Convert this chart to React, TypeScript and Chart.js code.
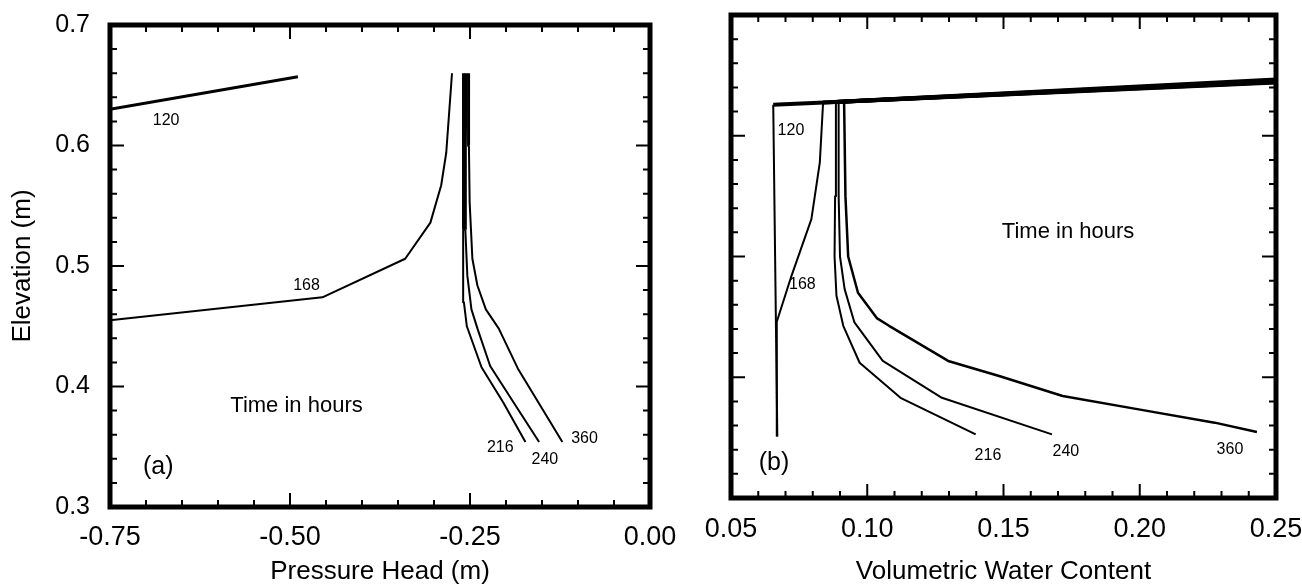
import React, { useEffect, useRef } from "react";
import { Chart, registerables } from "chart.js";

Chart.register(...registerables);

const FONT = "'Liberation Sans', Arial, Helvetica, sans-serif";

// ---------- Panel (a): pressure head vs elevation ----------
const pressureTicks = [-0.75, -0.5, -0.25, 0];
const elevationTicks = [0.3, 0.4, 0.5, 0.6, 0.7];

const a120X = [-0.75, -0.489];
const a120Y = [0.63, 0.657];
const a168X = [-0.75, -0.455, -0.34, -0.305, -0.29, -0.283, -0.275];
const a168Y = [0.455, 0.474, 0.506, 0.536, 0.567, 0.594, 0.66];
const a216X = [-0.173, -0.204, -0.234, -0.2544, -0.2585, -0.2595, -0.259, -0.259];
const a216Y = [0.354, 0.387, 0.416, 0.45, 0.47, 0.53, 0.6, 0.66];
const a240X = [-0.154, -0.1865, -0.222, -0.2396, -0.248, -0.2537, -0.2565, -0.2565, -0.2555];
const a240Y = [0.354, 0.384, 0.417, 0.448, 0.464, 0.492, 0.53, 0.6, 0.66];
const a360X = [-0.1217, -0.1836, -0.21, -0.228, -0.2398, -0.2467, -0.2505, -0.2515, -0.252];
const a360Y = [0.354, 0.415, 0.448, 0.464, 0.484, 0.506, 0.553, 0.6, 0.66];

// ---------- Panel (b): water content vs elevation ----------
const contentTicks = [0.05, 0.1, 0.15, 0.2, 0.25];

const b120X = [0.067, 0.0655, 0.25];
const b120Y = [0.351, 0.6257, 0.644];
const b168X = [0.0668, 0.0668, 0.0705, 0.0722, 0.0795, 0.0826, 0.0838, 0.25];
const b168Y = [0.351, 0.446, 0.472, 0.484, 0.531, 0.578, 0.6276, 0.6446];
const b216X = [0.1398, 0.1122, 0.0972, 0.0912, 0.0887, 0.088, 0.0882, 0.0885, 0.25];
const b216Y = [0.3527, 0.383, 0.412, 0.4426, 0.4675, 0.5, 0.55, 0.628, 0.6452];
const b240X = [0.1678, 0.1274, 0.1057, 0.0953, 0.0917, 0.09, 0.0895, 0.0895, 0.25];
const b240Y = [0.3527, 0.383, 0.4135, 0.4454, 0.473, 0.5, 0.55, 0.6282, 0.6458];
const b360X = [0.243, 0.2275, 0.1996, 0.1717, 0.1484, 0.1297, 0.108, 0.1035, 0.0966, 0.093, 0.092, 0.0915, 0.25];
const b360Y = [0.3546, 0.3624, 0.3734, 0.3845, 0.401, 0.4135, 0.4426, 0.449, 0.47, 0.5, 0.55, 0.6284, 0.6465];

// curve labels and notes (data coordinates)
const aNotes = [
  { text: "120", x: -0.672, y: 0.6205, size: 16 },
  { text: "168", x: -0.477, y: 0.484, size: 16 },
  { text: "216", x: -0.208, y: 0.349, size: 16 },
  { text: "240", x: -0.146, y: 0.339, size: 16 },
  { text: "360", x: -0.091, y: 0.357, size: 16 },
  { text: "Time in hours", x: -0.491, y: 0.384, size: 22 },
  { text: "(a)", x: -0.683, y: 0.333, size: 25 },
];
const bNotes = [
  { text: "120", x: 0.072, y: 0.6046, size: 16 },
  { text: "168", x: 0.0762, y: 0.4768, size: 16 },
  { text: "216", x: 0.1443, y: 0.3349, size: 16 },
  { text: "240", x: 0.1729, y: 0.3382, size: 16 },
  { text: "360", x: 0.2331, y: 0.3398, size: 16 },
  { text: "Time in hours", x: 0.1737, y: 0.5207, size: 22 },
  { text: "(b)", x: 0.0658, y: 0.329, size: 25 },
];

const zip = (xs: number[], ys: number[]) => xs.map((x, i) => ({ x, y: ys[i] }));

const frameTicks = {
  id: "frameTicks",
  afterDatasetsDraw(chart: any, _a: any, opts: any) {
    const { ctx, chartArea } = chart;
    const { left, right, top, bottom } = chartArea;
    const xs = chart.scales.x;
    const ys = chart.scales.y;
    const isMajor = (v: number, step: number) => Math.abs(v / step - Math.round(v / step)) < 1e-6;
    ctx.save();
    ctx.strokeStyle = "#000";
    ctx.lineWidth = opts.tickWidth;
    ctx.beginPath();
    const nx = Math.round((xs.max - xs.min) / opts.xMinor);
    for (let i = 0; i <= nx; i++) {
      const v = xs.min + i * opts.xMinor;
      const px = xs.getPixelForValue(v);
      const len = isMajor(v, opts.xMajor) ? opts.major : opts.minor;
      ctx.moveTo(px, bottom);
      ctx.lineTo(px, bottom - len);
      ctx.moveTo(px, top);
      ctx.lineTo(px, top + len);
    }
    const ny = Math.round((ys.max - ys.min) / opts.yMinor);
    for (let i = 0; i <= ny; i++) {
      const v = ys.min + i * opts.yMinor;
      const py = ys.getPixelForValue(v);
      const len = isMajor(v, opts.yMajor) ? opts.major : opts.minor;
      ctx.moveTo(left, py);
      ctx.lineTo(left + len, py);
      ctx.moveTo(right, py);
      ctx.lineTo(right - len, py);
    }
    ctx.stroke();
    ctx.lineWidth = opts.frameWidth;
    ctx.strokeRect(left, top, right - left, bottom - top);
    ctx.restore();
  },
};

const notesPlugin = {
  id: "notes",
  afterDatasetsDraw(chart: any, _a: any, opts: any) {
    const { ctx } = chart;
    const xs = chart.scales.x;
    const ys = chart.scales.y;
    ctx.save();
    ctx.fillStyle = "#000";
    ctx.textAlign = "center";
    ctx.textBaseline = "middle";
    for (const n of opts.items || []) {
      ctx.font = `${n.size}px ${FONT}`;
      ctx.fillText(n.text, xs.getPixelForValue(n.x), ys.getPixelForValue(n.y));
    }
    ctx.restore();
  },
};

// width: base line width; thick: width used for segments starting at index >= from
function lineDs(data: { x: number; y: number }[], width: number, thick?: number, from?: number) {
  const start = from === undefined ? data.length - 2 : from;
  return {
    data,
    borderColor: "#000",
    backgroundColor: "#000",
    borderWidth: width,
    pointRadius: 0,
    tension: 0,
    fill: false,
    borderJoinStyle: "round",
    segment: thick
      ? { borderWidth: (c: any) => (c.p0DataIndex >= start ? thick : width) }
      : undefined,
  };
}

const fitX = (h: number) => (s: any) => {
  s.height = h;
  s.paddingLeft = 0;
  s.paddingRight = 0;
};
const fitY = (w: number) => (s: any) => {
  s.width = w;
  s.paddingTop = 0;
  s.paddingBottom = 0;
};

function PanelA() {
  const ref = useRef<HTMLCanvasElement>(null);
  useEffect(() => {
    const chart = new Chart(ref.current as HTMLCanvasElement, {
      type: "line",
      data: {
        datasets: [
          lineDs(zip(a120X, a120Y), 3),
          lineDs(zip(a168X, a168Y), 2),
          lineDs(zip(a216X, a216Y), 2, 3, 5),
          lineDs(zip(a240X, a240Y), 2, 3, 6),
          lineDs(zip(a360X, a360Y), 2, 3, 7),
        ] as any,
      },
      options: {
        animation: false,
        responsive: false,
        maintainAspectRatio: false,
        layout: { padding: { left: 0, right: 50, top: 25, bottom: 0 } },
        plugins: {
          legend: { display: false },
          tooltip: { enabled: false },
          frameTicks: { xMinor: 0.05, xMajor: 0.25, yMinor: 0.02, yMajor: 0.1, major: 14, minor: 7, tickWidth: 2, frameWidth: 5 },
          notes: { items: aNotes },
        } as any,
        scales: {
          x: {
            type: "linear",
            min: -0.75,
            max: 0,
            afterFit: fitX(80),
            afterBuildTicks: (s: any) => { s.ticks = pressureTicks.map((v) => ({ value: v })); },
            ticks: { autoSkip: false, maxRotation: 0, padding: 6, color: "#000", font: { family: FONT, size: 27 }, callback: (v: any) => Number(v).toFixed(2) },
            grid: { display: false },
            border: { display: false },
            title: { display: true, text: "Pressure Head (m)", color: "#000", font: { family: FONT, size: 26 }, padding: { top: 0, bottom: 0 } },
          },
          y: {
            type: "linear",
            min: 0.3,
            max: 0.7,
            afterFit: fitY(110),
            afterBuildTicks: (s: any) => { s.ticks = elevationTicks.map((v) => ({ value: v })); },
            ticks: { autoSkip: false, padding: 12, color: "#000", font: { family: FONT, size: 25 }, callback: (v: any) => Number(v).toFixed(1) },
            grid: { display: false },
            border: { display: false },
            title: { display: true, text: "Elevation (m)", color: "#000", font: { family: FONT, size: 26 }, padding: { top: 7, bottom: 0 } },
          },
        },
      } as any,
      plugins: [frameTicks, notesPlugin],
    });
    return () => chart.destroy();
  }, []);
  return <canvas ref={ref} width={700} height={587} style={{ position: "absolute", left: 0, top: 0, width: 700, height: 587 }} />;
}

function PanelB() {
  const ref = useRef<HTMLCanvasElement>(null);
  useEffect(() => {
    const chart = new Chart(ref.current as HTMLCanvasElement, {
      type: "line",
      data: {
        datasets: [
          lineDs(zip(b120X, b120Y), 2, 4),
          lineDs(zip(b168X, b168Y), 2, 4),
          lineDs(zip(b216X, b216Y), 2, 4),
          lineDs(zip(b240X, b240Y), 2, 4),
          lineDs(zip(b360X, b360Y), 2.5, 4),
        ] as any,
      },
      options: {
        animation: false,
        responsive: false,
        maintainAspectRatio: false,
        layout: { padding: { left: 0, right: 26, top: 15, bottom: 0 } },
        plugins: {
          legend: { display: false },
          tooltip: { enabled: false },
          frameTicks: { xMinor: 0.01, xMajor: 0.05, yMinor: 0.02, yMajor: 0.1, major: 14, minor: 7, tickWidth: 2, frameWidth: 5 },
          notes: { items: bNotes },
        } as any,
        scales: {
          x: {
            type: "linear",
            min: 0.05,
            max: 0.25,
            afterFit: fitX(89),
            afterBuildTicks: (s: any) => { s.ticks = contentTicks.map((v) => ({ value: v })); },
            ticks: { autoSkip: false, maxRotation: 0, padding: 7, color: "#000", font: { family: FONT, size: 27 }, callback: (v: any) => Number(v).toFixed(2) },
            grid: { display: false },
            border: { display: false },
            title: { display: true, text: "Volumetric Water Content", color: "#000", font: { family: FONT, size: 26 }, padding: { top: 0, bottom: 0 } },
          },
          y: {
            type: "linear",
            min: 0.3,
            max: 0.7,
            afterFit: fitY(66),
            afterBuildTicks: (s: any) => { s.ticks = elevationTicks.map((v) => ({ value: v })); },
            ticks: { display: false },
            grid: { display: false },
            border: { display: false },
          },
        },
      } as any,
      plugins: [frameTicks, notesPlugin],
    });
    return () => chart.destroy();
  }, []);
  return <canvas ref={ref} width={637} height={587} style={{ position: "absolute", left: 665, top: 0, width: 637, height: 587 }} />;
}

export default function App() {
  return (
    <div style={{ position: "absolute", left: 0, top: 0, width: 1302, height: 587, background: "#fff", overflow: "hidden" }}>
      <PanelA />
      <PanelB />
    </div>
  );
}
